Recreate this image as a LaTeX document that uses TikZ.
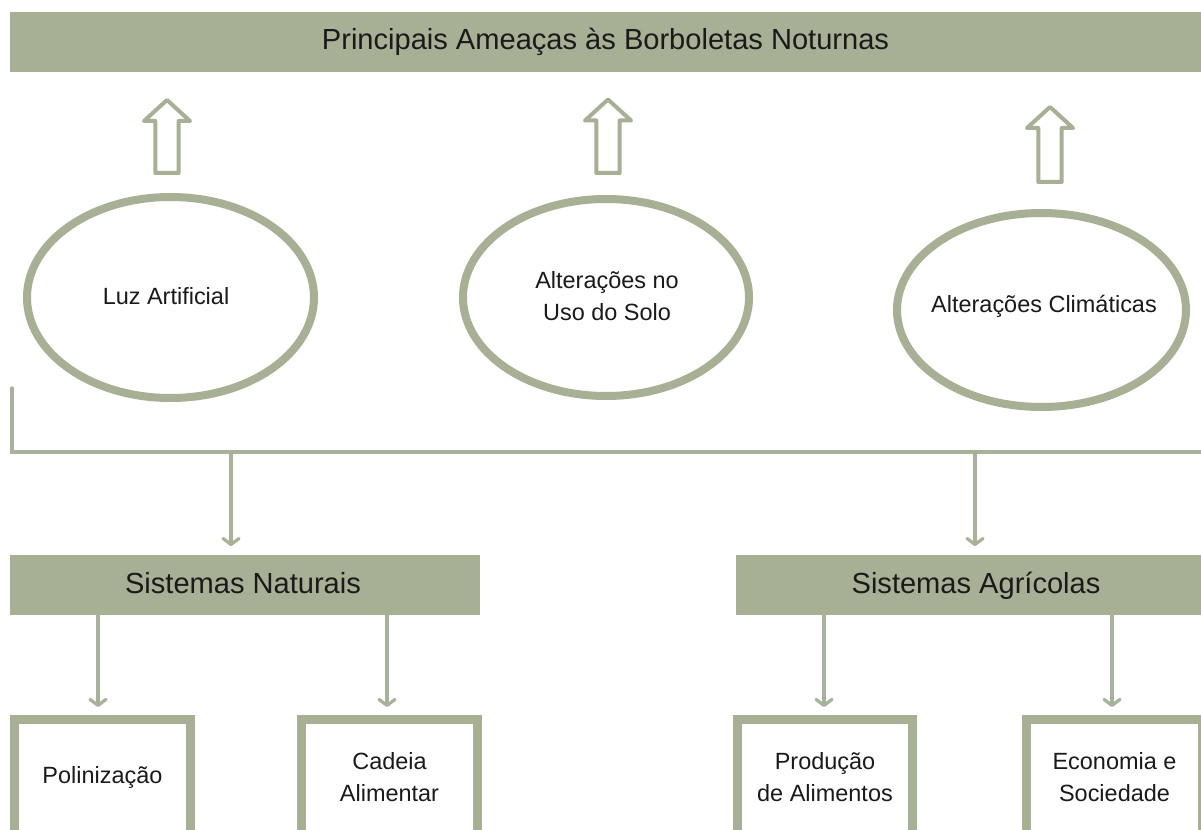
\documentclass[tikz,border=0pt]{standalone}
\usepackage{fontspec}
\setmainfont{Liberation Sans}
\usetikzlibrary{arrows.meta,shapes.geometric}
\definecolor{sage}{RGB}{167,175,149}
\definecolor{sageline}{RGB}{168,177,153}
\definecolor{txt}{RGB}{26,26,26}
\newcommand\blkarrow[3]{%
  \draw[blockarrow] (#1,#2) -- ++(23,21) -- ++(-11.3,0) -- (#1+11.7,#3) -- (#1-11.7,#3) -- (#1-11.7,#2+21) -- ++(-11.3,0) -- cycle;}
\tikzset{
  bar/.style={fill=sage, draw=none, minimum height=45pt, inner sep=0pt, text=txt,
    font=\fontsize{21.8}{26}\selectfont},
  barlbl/.style={text=txt, font=\fontsize{21.8}{26}\selectfont, text height=16pt, text depth=4.5pt, inner sep=0pt},
  ell/.style={ellipse, draw=sage, line width=6pt, inner sep=0pt},
  lbl/.style={text=txt, align=center, font=\fontsize{17.6}{23.5}\selectfont},
  framebox/.style={draw=sage, line width=6.75pt, fill=white, minimum width=132pt,
    minimum height=86.25pt, inner sep=0pt, text=txt, align=center,
    font=\fontsize{17.6}{23.5}\selectfont},
  blockarrow/.style={draw=sage, line width=3pt, line join=round},
  conn/.style={draw=sageline, line width=2.4pt, line cap=round},
  darrow/.style={conn, -{Straight Barb[length=4.5pt,width=12pt,line width=2.4pt,round]}},
}
\begin{document}
\begin{tikzpicture}[x=0.75pt,y=-0.75pt]
\useasboundingbox (0,0) rectangle (1201,830);
\clip (0,0) rectangle (1201,830);
\fill[white] (0,0) rectangle (1201,830);

% title bar
\node[bar, minimum width=893.25pt] (title) at (605.5,42) {Principais Ameaças às Borboletas Noturnas};

% block arrows
\blkarrow{167}{100}{173}
\blkarrow{608}{99.5}{173}
\blkarrow{1050}{107}{182}

% ellipses
\node[ell, minimum width=215.25pt, minimum height=150.75pt] (e1) at (170.5,297.5) {};
\node[ell, minimum width=214.5pt, minimum height=147.75pt] (e2) at (606,297.5) {};
\node[ell, minimum width=216.75pt, minimum height=145.5pt] (e3) at (1041.5,310) {};
\node[lbl] at (166,296) {Luz Artificial};
\node[lbl] at (607,296) {Alterações no\\Uso do Solo};
\node[lbl] at (1044,306) {Alterações Climáticas};

% bars
\node[bar, minimum width=352.5pt] (nat) at (245,585) {};
\node[bar, minimum width=360pt] (agr) at (976,585) {};
\node[barlbl] at (243,586) {Sistemas Naturais};
\node[barlbl] at (976,586) {Sistemas Agrícolas};

% connector frame
\coordinate (ltop) at (12,388);
\coordinate (lcorner) at (12,452);
\coordinate (lend) at (1215,452);
\coordinate (j1) at (231,452);
\coordinate (j2) at (975,452);
\draw[conn] (ltop) -- (lcorner) -- (lend);
\draw[darrow, shorten >=6.5pt] (j1) -- (j1 |- nat.north);
\draw[darrow, shorten >=6.5pt] (j2) -- (j2 |- agr.north);

% bottom boxes
\node[framebox] (pol) at (102.5,777) {Polinização};
\node[framebox] (cad) at (389.5,777) {Cadeia\\Alimentar};
\node[framebox, minimum width=131.25pt] (pro) at (825,777) {Produção\\de Alimentos};
\node[framebox] (eco) at (1114.5,777) {Economia e\\Sociedade};

\coordinate (s1) at (98,615);
\coordinate (s2) at (387,615);
\coordinate (s3) at (824,615);
\coordinate (s4) at (1112,615);
\draw[darrow, shorten >=6pt] (s1) -- (s1 |- pol.north);
\draw[darrow, shorten >=6pt] (s2) -- (s2 |- cad.north);
\draw[darrow, shorten >=6pt] (s3) -- (s3 |- pro.north);
\draw[darrow, shorten >=6pt] (s4) -- (s4 |- eco.north);
\end{tikzpicture}
\end{document}
